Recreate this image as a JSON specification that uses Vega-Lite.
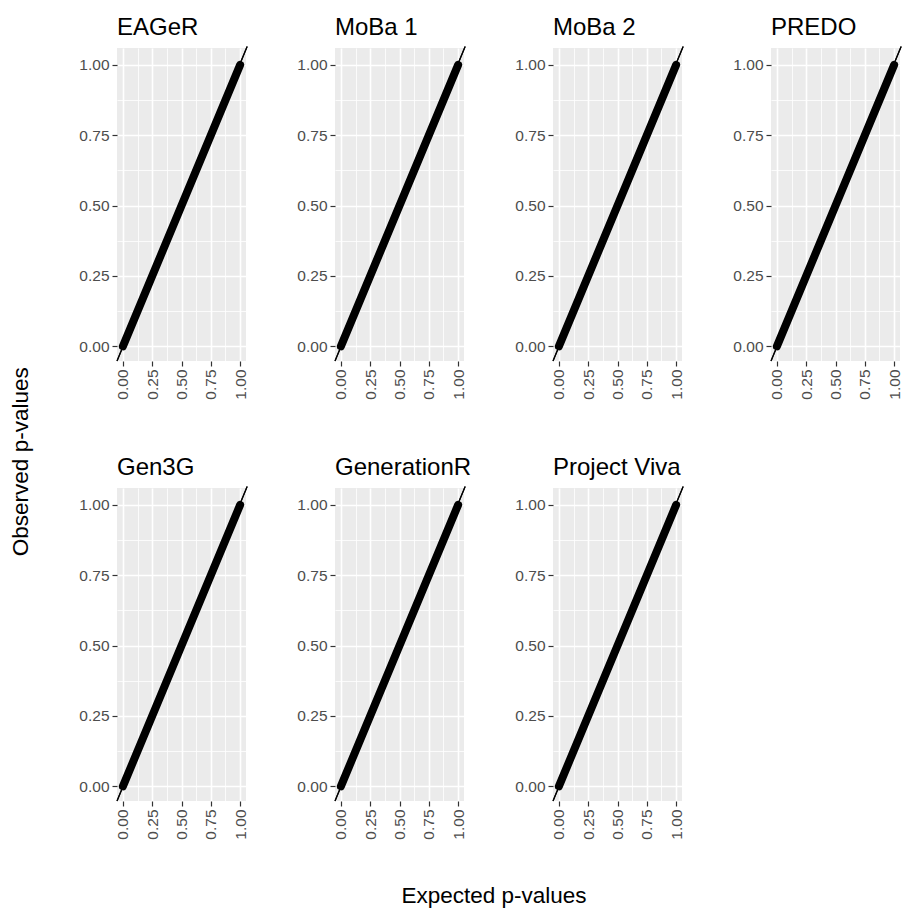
{
  "$schema": "https://vega.github.io/schema/vega-lite/v6.json",
  "background": "white",
  "padding": {"left": 10, "top": 15, "right": 2, "bottom": 5},
  "title": {
    "text": "Observed p-values",
    "orient": "left",
    "anchor": "middle",
    "font": "Liberation Sans",
    "fontSize": 22.5,
    "fontWeight": "normal",
    "color": "black",
    "offset": 46
  },
  "data": {
    "values": [
      {"cohort": "EAGeR", "expected": 0, "observed": 0},
      {"cohort": "EAGeR", "expected": 1, "observed": 1},
      {"cohort": "MoBa 1", "expected": 0, "observed": 0},
      {"cohort": "MoBa 1", "expected": 1, "observed": 1},
      {"cohort": "MoBa 2", "expected": 0, "observed": 0},
      {"cohort": "MoBa 2", "expected": 1, "observed": 1},
      {"cohort": "PREDO", "expected": 0, "observed": 0},
      {"cohort": "PREDO", "expected": 1, "observed": 1},
      {"cohort": "Gen3G", "expected": 0, "observed": 0},
      {"cohort": "Gen3G", "expected": 1, "observed": 1},
      {"cohort": "GenerationR", "expected": 0, "observed": 0},
      {"cohort": "GenerationR", "expected": 1, "observed": 1},
      {"cohort": "Project Viva", "expected": 0, "observed": 0},
      {"cohort": "Project Viva", "expected": 1, "observed": 1}
    ]
  },
  "facet": {
    "field": "cohort",
    "type": "nominal",
    "sort": ["EAGeR", "MoBa 1", "MoBa 2", "PREDO", "Gen3G", "GenerationR", "Project Viva"],
    "header": {
      "title": "Expected p-values",
      "titleOrient": "bottom",
      "titleAnchor": "middle",
      "titleFont": "Liberation Sans",
      "titleFontSize": 22.5,
      "titleFontWeight": "normal",
      "titleColor": "black",
      "titlePadding": 45,
      "labelOrient": "top",
      "labelAnchor": "start",
      "labelAlign": "left",
      "labelFont": "Liberation Sans",
      "labelFontSize": 24,
      "labelColor": "black",
      "labelPadding": 6
    }
  },
  "columns": 4,
  "spacing": {"column": 39, "row": 55},
  "resolve": {"axis": {"x": "independent", "y": "independent"}},
  "spec": {
    "width": 129,
    "height": 313,
    "layer": [
      {
        "mark": {"type": "line", "color": "black", "strokeWidth": 8, "strokeCap": "round"},
        "encoding": {
          "x": {
            "field": "expected",
            "type": "quantitative",
            "title": null,
            "scale": {"domain": [-0.05, 1.05], "nice": false, "zero": false},
            "axis": {
              "values": [0, 0.125, 0.25, 0.375, 0.5, 0.625, 0.75, 0.875, 1],
              "labelExpr": "(datum.value * 4) % 1 == 0 ? format(datum.value, '.2f') : ''",
              "labelAngle": 270,
              "labelOverlap": false,
              "gridWidth": {"condition": {"test": "(datum.value * 4) % 1 != 0", "value": 0.8}, "value": 1.6},
              "tickColor": {"condition": {"test": "(datum.value * 4) % 1 != 0", "value": "transparent"}, "value": "#333333"}
            }
          },
          "y": {
            "field": "observed",
            "type": "quantitative",
            "title": null,
            "scale": {"domain": [-0.052, 1.06], "nice": false, "zero": false},
            "axis": {
              "values": [0, 0.125, 0.25, 0.375, 0.5, 0.625, 0.75, 0.875, 1],
              "labelExpr": "(datum.value * 4) % 1 == 0 ? format(datum.value, '.2f') : ''",
              "labelOverlap": false,
              "gridWidth": {"condition": {"test": "(datum.value * 4) % 1 != 0", "value": 0.8}, "value": 1.6},
              "tickColor": {"condition": {"test": "(datum.value * 4) % 1 != 0", "value": "transparent"}, "value": "#333333"}
            }
          }
        }
      },
      {
        "mark": {"type": "rule", "color": "black", "strokeWidth": 1.2},
        "encoding": {
          "x": {
            "datum": -0.05,
            "type": "quantitative",
            "title": null,
            "scale": {"domain": [-0.05, 1.05], "nice": false, "zero": false},
            "axis": {
              "values": [0, 0.125, 0.25, 0.375, 0.5, 0.625, 0.75, 0.875, 1],
              "labelExpr": "(datum.value * 4) % 1 == 0 ? format(datum.value, '.2f') : ''",
              "labelAngle": 270,
              "labelOverlap": false,
              "gridWidth": {"condition": {"test": "(datum.value * 4) % 1 != 0", "value": 0.8}, "value": 1.6},
              "tickColor": {"condition": {"test": "(datum.value * 4) % 1 != 0", "value": "transparent"}, "value": "#333333"}
            }
          },
          "y": {
            "datum": -0.052,
            "type": "quantitative",
            "title": null,
            "scale": {"domain": [-0.052, 1.06], "nice": false, "zero": false},
            "axis": {
              "values": [0, 0.125, 0.25, 0.375, 0.5, 0.625, 0.75, 0.875, 1],
              "labelExpr": "(datum.value * 4) % 1 == 0 ? format(datum.value, '.2f') : ''",
              "labelOverlap": false,
              "gridWidth": {"condition": {"test": "(datum.value * 4) % 1 != 0", "value": 0.8}, "value": 1.6},
              "tickColor": {"condition": {"test": "(datum.value * 4) % 1 != 0", "value": "transparent"}, "value": "#333333"}
            }
          },
          "x2": {"datum": 1.06},
          "y2": {"datum": 1.065}
        }
      }
    ]
  },
  "config": {
    "view": {"fill": "#EBEBEB", "stroke": null},
    "axis": {
      "domain": false,
      "grid": true,
      "gridColor": "white",
      "ticks": true,
      "tickSize": 5,
      "tickWidth": 1.2,
      "labelFont": "Liberation Sans",
      "labelFontSize": 15.5,
      "labelColor": "#4D4D4D",
      "labelPadding": 3
    }
  }
}
